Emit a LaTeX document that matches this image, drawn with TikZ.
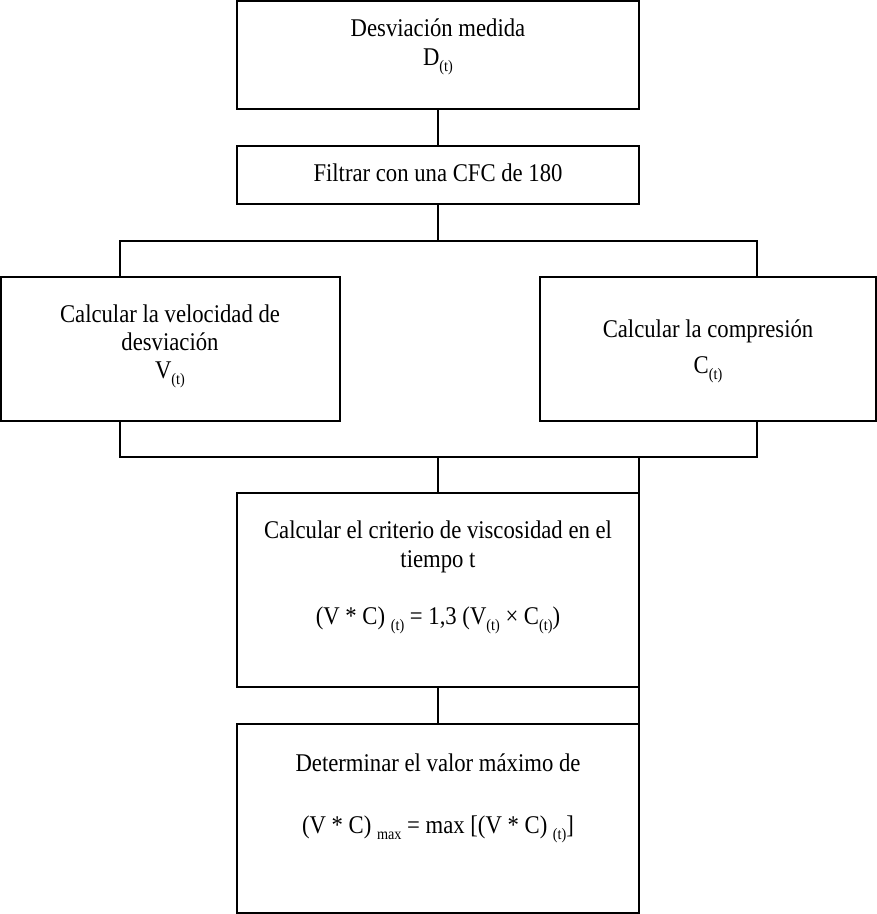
\documentclass[tikz,border=0pt]{standalone}
\usepackage{fontspec}
\setmainfont[FakeStretch=0.89]{Liberation Serif}
\newcommand{\sbt}[1]{\raisebox{-0.55ex}{\fontsize{16}{16}\selectfont #1}}
\begin{document}
\begin{tikzpicture}[x=1pt,y=-1pt,
  box/.style={draw,line width=1.5pt,inner sep=0pt,outer sep=0pt,anchor=north west},
  lbl/.style={anchor=base,inner sep=0pt,font=\fontsize{25.5}{28}\selectfont},
  conn/.style={line width=1.5pt}]
\useasboundingbox (0,0) rectangle (877,914);
\node[box,minimum width=402pt,minimum height=108pt] (b1) at (237,1) {};
\node[box,minimum width=402pt,minimum height=58pt] (b2) at (237,146) {};
\node[box,minimum width=339pt,minimum height=144pt] (b3) at (1,277) {};
\node[box,minimum width=336pt,minimum height=144pt] (b4) at (540,277) {};
\node[box,minimum width=402pt,minimum height=194pt] (b5) at (237,493) {};
\node[box,minimum width=402pt,minimum height=189pt] (b6) at (237,724) {};
% texts
\node[lbl] (t1a) at (438,36) {Desviación medida};
\node[lbl] (t1b) at (438,65) {D\sbt{(t)}};
\node[lbl] (t2) at (438,181) {Filtrar con una CFC de 180};
\node[lbl] (t3a) at (170,322) {Calcular la velocidad de};
\node[lbl] (t3b) at (170,350) {desviación};
\node[lbl] (t3c) at (170,378) {V\sbt{(t)}};
\node[lbl] (t4a) at (708,337) {Calcular la compresión};
\node[lbl] (t4b) at (708,373) {C\sbt{(t)}};
\node[lbl] (t5a) at (438,538) {Calcular el criterio de viscosidad en el};
\node[lbl] (t5b) at (438,567) {tiempo t};
\node[lbl] (t5c) at (438,624) {(V * C) \sbt{(t)} = 1,3 (V\sbt{(t)} × C\sbt{(t)})};
\node[lbl] (t6a) at (438,771) {Determinar el valor máximo de};
\node[lbl] (t6b) at (438,833) {(V * C) \sbt{max} = max [(V * C) \sbt{(t)}]};
% junction coordinates
\coordinate (tl) at (120,241);
\coordinate (tr) at (757,241);
\coordinate (bl) at (120,457);
\coordinate (brr) at (757,457);
% connectors
\draw[conn] (b1.south) -- (b2.north);
\draw[conn] (b2.south) -- (b2.south |- tl);
\draw[conn] (tl |- b3.north) -- (tl) -- (tr) -- (tr |- b4.north);
\draw[conn] (bl |- b3.south) -- (bl) -- (brr) -- (brr |- b4.south);
\draw[conn] (b5.north) -- (b5.north |- bl);
\draw[conn] (b6.north east) -- (b6.north east |- bl);
\draw[conn] (b5.south) -- (b6.north);
\end{tikzpicture}
\end{document}
